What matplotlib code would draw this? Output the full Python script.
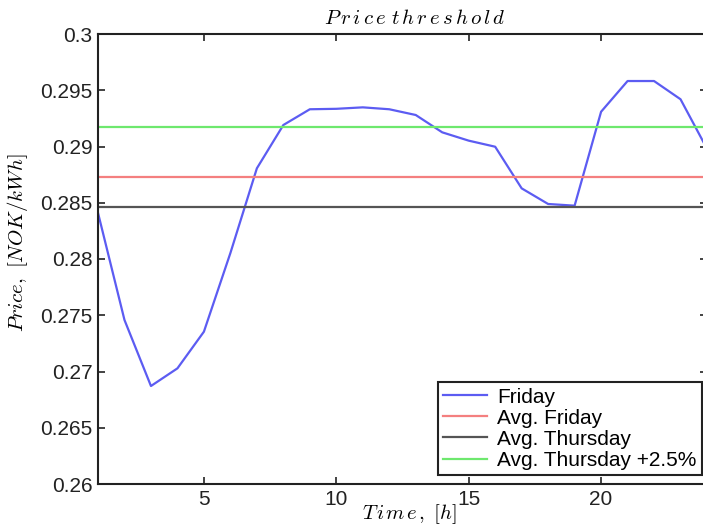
import numpy as np
import matplotlib
matplotlib.use("Agg")
import matplotlib.pyplot as plt
from matplotlib.ticker import FuncFormatter

plt.rcParams["font.family"] = ["Liberation Sans", "DejaVu Sans"]
plt.rcParams["mathtext.fontset"] = "cm"

hours = list(range(1, 25))
friday = [0.2841, 0.27458, 0.26871, 0.27028, 0.27354, 0.28053, 0.28806, 0.29191,
          0.29331, 0.29335, 0.29348, 0.29331, 0.2928, 0.29126, 0.29052, 0.28998,
          0.28628, 0.28489, 0.28474, 0.29309, 0.29582, 0.29582, 0.2942, 0.2898]
avg_thursday = 0.28465
margin = 0.025

avg_friday = float(np.mean(friday))
thursday_plus = avg_thursday * (1 + margin)


def spaced_math(text, gap):
    """Italic math text with a little tracking between the letters."""
    words = []
    for word in text.split(" "):
        words.append((r"\hspace{%.2f}" % gap).join(word))
    return "$" + r"\ ".join(words) + "$"


fig = plt.figure(figsize=(7.03, 5.27), dpi=100)
ax = fig.add_axes([98 / 703, 43 / 527, 609 / 703, 450 / 527])

ax.plot(hours, friday, color="#5c5cf2", lw=1.6, label="Friday")
ax.axhline(avg_friday, color="#f47f7f", lw=1.6, label="Avg. Friday")
ax.axhline(avg_thursday, color="#555555", lw=1.6, label="Avg. Thursday")
ax.axhline(thursday_plus, color="#6ee86e", lw=1.6, label="Avg. Thursday +2.5%")

ax.set_xlim(1, 24)
ax.set_ylim(0.26, 0.30)
ax.set_xticks([5, 10, 15, 20])
ax.set_yticks(np.arange(0.26, 0.3001, 0.005))
ax.yaxis.set_major_formatter(FuncFormatter(lambda v, p: f"{v:.3f}".rstrip("0").rstrip(".")))
ax.tick_params(direction="in", top=True, right=True, labelsize=15, length=5, width=1.2,
               colors="#222222", pad=4)
for s in ax.spines.values():
    s.set_linewidth(1.5)
    s.set_color("#222222")

ax.set_title(spaced_math("Price threshold", 0.17), fontsize=15, pad=7, x=0.52)
ax.set_xlabel(spaced_math("Time,", 0.12) + r"$\ [h]$", fontsize=15)
ax.xaxis.set_label_coords((409 - 98) / 609, -0.040)
ax.set_ylabel(r"$Price,\ [NOK/kWh]$", fontsize=15)
ax.yaxis.set_label_coords(-0.112, (484 - 243) / 450)

leg = ax.legend(loc="lower right", bbox_to_anchor=(604 / 609, 9 / 450), borderaxespad=0,
                fontsize=15, fancybox=False, framealpha=1, edgecolor="#222222",
                handlelength=2.1, handletextpad=0.5, labelspacing=0.1, borderpad=0.25)
leg.get_frame().set_linewidth(1.5)

fig.savefig("out.png", dpi=100)
